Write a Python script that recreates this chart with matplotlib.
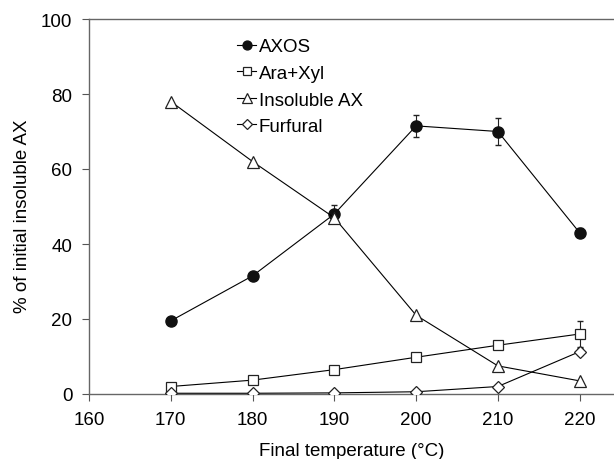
import matplotlib.pyplot as plt

plt.rcParams['font.family'] = ['Liberation Sans', 'DejaVu Sans']

temps = [170, 180, 190, 200, 210, 220]
axos = [19.5, 31.5, 48.0, 71.5, 70.0, 43.0]
axos_err = [0.5, 0.8, 2.5, 3.0, 3.5, 1.2]
ara_xyl = [2.0, 3.7, 6.5, 9.8, 13.0, 16.0]
ara_xyl_err = [0.3, 0.3, 0.4, 0.5, 0.6, 3.5]
insoluble_ax = [78.0, 62.0, 47.0, 21.0, 7.5, 3.5]
furfural = [0.2, 0.2, 0.3, 0.6, 2.0, 11.3]
furfural_err = [0.1, 0.1, 0.1, 0.2, 0.3, 1.0]

fig = plt.figure(figsize=(6.14, 4.6), dpi=100)
ax = fig.add_axes([89 / 614, 65 / 460, 525 / 614, 375 / 460])

lw = 0.8
ebkw = dict(fmt='none', ecolor='#222222', capsize=2, elinewidth=0.8, zorder=2)
ax.errorbar(temps, axos, yerr=axos_err, **ebkw)
ax.errorbar(temps, ara_xyl, yerr=ara_xyl_err, **ebkw)
ax.errorbar(temps, furfural, yerr=furfural_err, **ebkw)

ax.plot(temps, axos, color='black', lw=lw, marker='o', ms=8,
        mfc='#111111', mec='#111111', label='AXOS', zorder=3)
ax.plot(temps, ara_xyl, color='black', lw=lw, marker='s', ms=7.5,
        mfc='white', mec='#222222', mew=0.9, label='Ara+Xyl', zorder=3)
ax.plot(temps, insoluble_ax, color='black', lw=lw, marker='^', ms=8.5,
        mfc='white', mec='#222222', mew=0.9, label='Insoluble AX', zorder=3)
ax.plot(temps, furfural, color='black', lw=lw, marker='D', ms=6.5,
        mfc='white', mec='#222222', mew=0.9, label='Furfural', zorder=4)

ax.set_xlim(160, 224.2)
ax.set_ylim(0, 100)
ax.set_xticks([160, 170, 180, 190, 200, 210, 220])
ax.set_yticks([0, 20, 40, 60, 80, 100])
ax.tick_params(direction='out', length=5, width=0.8, colors='#555555', labelcolor='black',
               labelsize=13.5, pad=7)
for s in ['left', 'bottom', 'top']:
    ax.spines[s].set_color('#666666')
    ax.spines[s].set_linewidth(1.0)
ax.spines['right'].set_visible(False)
ax.set_xlabel('Final temperature (°C)', fontsize=13.5, labelpad=10)
ax.set_ylabel('% of initial insoluble AX', fontsize=13.5)
ax.yaxis.set_label_coords(-0.110, 0.477)

ax.legend(loc='upper left', bbox_to_anchor=(228 / 614, 430 / 460), bbox_transform=fig.transFigure,
          frameon=False, fontsize=13.5, handlelength=1.0, handletextpad=0.15,
          labelspacing=0.5, borderpad=0, markerscale=0.8)

fig.savefig('out.png', dpi=100)
